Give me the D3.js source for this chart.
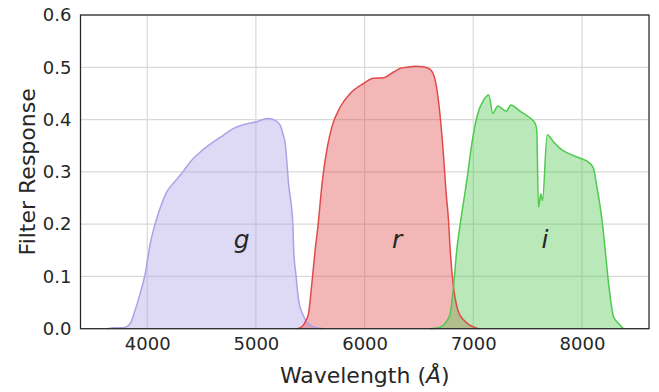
<!DOCTYPE html>
<html><head><meta charset="utf-8">
<script src="https://cdn.jsdelivr.net/npm/d3@7"></script>
<style>body{margin:0;background:#fff}svg{display:block}text{font-family:"DejaVu Sans",sans-serif;fill:#262626}</style>
</head><body><svg id="c" width="659" height="392"></svg>
<script>
const gWave = [3630,3700,3780,3813,3850,3874,3936,3982,4028,4074,4135,4181,4230,4290,4328,4400,4488,4600,4700,4794,4900,5009,5080,5116,5180,5224,5250,5270,5300,5340,5348,5370,5392,5430,5469,5530,5622];
const gResp = [0,0.002,0.002,0.004,0.012,0.026,0.068,0.106,0.163,0.2015,0.24,0.262,0.276,0.29,0.3,0.32,0.338,0.356,0.37,0.383,0.391,0.396,0.401,0.402,0.398,0.389,0.372,0.354,0.278,0.2,0.15,0.1,0.055,0.028,0.013,0.004,0];
const rWave = [5383,5430,5454,5484,5515,5545,5573,5600,5622,5660,5699,5776,5868,5990,6082,6174,6266,6330,6389,6470,6542,6604,6650,6696,6727,6748,6772,6788,6818,6849,6880,6910,6960,7048];
const rResp = [0,0.005,0.013,0.029,0.087,0.15,0.2,0.26,0.3,0.35,0.386,0.424,0.45,0.469,0.479,0.48,0.491,0.498,0.5,0.502,0.501,0.496,0.475,0.405,0.329,0.265,0.208,0.15,0.08,0.042,0.025,0.017,0.008,0];
const iWave = [6604,6680,6727,6757,6788,6818,6848,6880,6941,6987,7033,7094,7143,7180,7226,7303,7346,7430,7523,7569,7584,7600,7622,7637,7680,7740,7815,7900,7984,8069,8106,8137,8168,8192,8214,8245,8291,8337,8382];
const iResp = [0,0.002,0.007,0.015,0.029,0.08,0.15,0.2,0.284,0.354,0.405,0.437,0.447,0.412,0.426,0.416,0.428,0.416,0.403,0.393,0.38,0.233,0.258,0.245,0.371,0.357,0.342,0.333,0.326,0.317,0.307,0.272,0.233,0.195,0.15,0.087,0.023,0.01,0];
const xTicks = [4000,5000,6000,7000,8000];
const yTicks = [0.0,0.1,0.2,0.3,0.4,0.5,0.6];
const filters = [
  {name:"g", wave:gWave, resp:gResp, color:"#ada2e6", labelAt:[4870,0.154]},
  {name:"r", wave:rWave, resp:rResp, color:"#e24a4a", labelAt:[6300,0.154]},
  {name:"i", wave:iWave, resp:iResp, color:"#4fc94f", labelAt:[7660,0.154]}
];

const svg = d3.select("#c");
const L=80.5, R=649, T=15, B=328.7;
const x = d3.scaleLinear().domain([3386,8617]).range([L,R]);
const y = d3.scaleLinear().domain([0,0.6]).range([B,T]);

const grid = svg.append("g");
grid.selectAll(".gx").data(xTicks).join("line")
  .attr("x1",d=>x(d)).attr("x2",d=>x(d)).attr("y1",T).attr("y2",B)
  .attr("stroke","#d9d9d9").attr("stroke-width",1.2);
grid.selectAll(".gy").data(yTicks).join("line")
  .attr("x1",L).attr("x2",R).attr("y1",d=>y(d)).attr("y2",d=>y(d))
  .attr("stroke","#d9d9d9").attr("stroke-width",1.2);

const area = d3.area().x(d=>x(d[0])).y0(y(0)).y1(d=>y(d[1])).curve(d3.curveMonotoneX);
const line = d3.line().x(d=>x(d[0])).y(d=>y(d[1])).curve(d3.curveMonotoneX);
filters.forEach(f=>{
  const pts = f.wave.map((w,i)=>[w,f.resp[i]]);
  svg.append("path").attr("d",area(pts)).attr("fill",f.color).attr("fill-opacity",0.4);
});
filters.forEach(f=>{
  const pts = f.wave.map((w,i)=>[w,f.resp[i]]);
  svg.append("path").attr("d",line(pts)).attr("fill","none").attr("stroke",f.color).attr("stroke-width",1.5);
  svg.append("text").attr("x",x(f.labelAt[0])).attr("y",y(f.labelAt[1]))
    .attr("text-anchor","middle").attr("font-style","italic").attr("font-size",25).text(f.name);
});

svg.append("rect").attr("x",L).attr("y",T).attr("width",R-L).attr("height",B-T)
  .attr("fill","none").attr("stroke","#262626").attr("stroke-width",1.25);

const xa = svg.append("g").attr("transform",`translate(0,${B})`)
  .call(d3.axisBottom(x).tickValues(xTicks).tickSize(0).tickPadding(9).tickFormat(d3.format("d")));
const ya = svg.append("g").attr("transform",`translate(${L},0)`)
  .call(d3.axisLeft(y).tickValues(yTicks).tickSize(0).tickPadding(9).tickFormat(d3.format(".1f")));
[xa,ya].forEach(a=>{a.select(".domain").remove(); a.selectAll("text").attr("font-size",18).attr("font-family","DejaVu Sans, sans-serif").attr("fill","#262626");});

const xl = svg.append("text").attr("x",(L+R)/2).attr("y",383).attr("text-anchor","middle").attr("font-size",22);
xl.append("tspan").text("Wavelength (");
xl.append("tspan").attr("font-style","italic").text("Å");
xl.append("tspan").text(")");
svg.append("text").attr("transform",`translate(35,${(T+B)/2}) rotate(-90)`).attr("text-anchor","middle").attr("font-size",22).text("Filter Response");
</script></body></html>
